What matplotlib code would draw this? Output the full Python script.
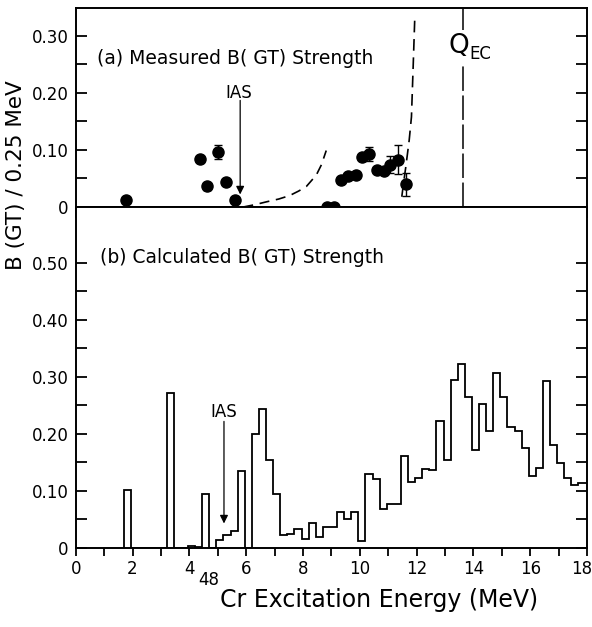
import matplotlib
matplotlib.use('Agg')
import matplotlib.pyplot as plt
import matplotlib.transforms as mtransforms
import numpy as np
from matplotlib.ticker import MultipleLocator

plt.rcParams['font.family'] = ['DejaVu Sans']

# ---------------- (a) measured B(GT) ----------------
meas_E = [1.78, 4.38, 4.62, 5.01, 5.29, 5.60, 8.84, 9.10, 9.34, 9.60, 9.88,
          10.07, 10.33, 10.60, 10.87, 11.08, 11.34, 11.62]
meas_B = [0.013, 0.085, 0.036, 0.096, 0.043, 0.012, 0.0, 0.0, 0.047, 0.054, 0.056,
          0.088, 0.093, 0.065, 0.063, 0.074, 0.083, 0.040]
meas_err = [0.0, 0.0, 0.006, 0.012, 0.0, 0.0, 0.0, 0.0, 0.0, 0.0, 0.0,
            0.0, 0.012, 0.0, 0.0, 0.015, 0.025, 0.020]

# detection-limit curves (dashed)
limit1_E = [5.90, 6.30, 6.71, 7.15, 7.53, 7.85, 8.12, 8.47, 8.65, 8.82]
limit1_B = [0.0, 0.004, 0.009, 0.014, 0.020, 0.028, 0.036, 0.056, 0.074, 0.099]
limit2_E = [11.48, 11.55, 11.62, 11.74, 11.82, 11.88, 11.94]
limit2_B = [0.018, 0.045, 0.070, 0.117, 0.158, 0.246, 0.336]

Q_EC = 13.64
IAS_meas_E = 5.79
IAS_calc_E = 5.22

# ---------------- (b) calculated B(GT), 0.25 MeV bins ----------------
calc_first_edge = 1.70
calc_bin_width = 0.25
calc_B = [0.101, 0, 0, 0, 0, 0, 0.271, 0, 0, 0.003, 0.002, 0.095, 0,
          0.014, 0.022, 0.030, 0.135, 0, 0.200, 0.243, 0.154, 0.094,
          0.022, 0.025, 0.034, 0.016, 0.043, 0.020, 0.037, 0.037,
          0.063, 0.051, 0.064, 0.013, 0.130, 0.121, 0.069, 0.077, 0.078,
          0.162, 0.116, 0.122, 0.138, 0.136, 0.223, 0.155, 0.294, 0.322,
          0.265, 0.172, 0.252, 0.205, 0.307, 0.265, 0.212, 0.206, 0.175,
          0.126, 0.140, 0.293, 0.181, 0.149, 0.122, 0.110, 0.114, 0.114]
calc_edges = calc_first_edge + calc_bin_width * np.arange(len(calc_B) + 1)

x_ticks_major = [0, 2, 4, 6, 8, 10, 12, 14, 16, 18]
top_yticks = [0, 0.10, 0.20, 0.30]
top_ylabels = ['0', '0.10', '0.20', '0.30']
bot_yticks = [0, 0.10, 0.20, 0.30, 0.40, 0.50]
bot_ylabels = ['0', '0.10', '0.20', '0.30', '0.40', '0.50']

W, H = 592, 627
fig = plt.figure(figsize=(W / 100, H / 100), dpi=100)

def fx(px):
    return px / W

def fy(py):
    return 1 - py / H

L, R = 75.7, 587
ax_a = fig.add_axes([fx(L), fy(207), fx(R) - fx(L), (207 - 8) / H])
ax_b = fig.add_axes([fx(L), fy(548), fx(R) - fx(L), (548 - 207) / H])

TICK_FS = 12
for ax in (ax_a, ax_b):
    ax.set_xlim(0, 18)
    for s in ax.spines.values():
        s.set_linewidth(1.4)
    ax.xaxis.set_minor_locator(MultipleLocator(1))
    ax.set_xticks(x_ticks_major)
    ax.tick_params(axis='x', which='both', direction='out', length=6, width=1.3,
                   top=False, bottom=True, pad=3)
    ax.tick_params(axis='y', which='both', direction='in', length=8, width=1.3,
                   left=True, right=True, pad=5, labelsize=TICK_FS)

ax_a.set_ylim(0, 0.349)
ax_a.set_yticks(top_yticks)
ax_a.set_yticklabels(top_ylabels)
ax_a.yaxis.set_minor_locator(MultipleLocator(0.05))
ax_a.tick_params(axis='x', which='both', labelbottom=False, length=8)

ax_b.set_ylim(0, 0.598)
ax_b.set_yticks(bot_yticks)
ax_b.set_yticklabels(bot_ylabels)
ax_b.set_yticks([0.05, 0.15, 0.25, 0.35, 0.45], minor=True)
ax_b.tick_params(axis='x', which='major', labelsize=TICK_FS)
# keep the last x label ("18") inside the picture
last = ax_b.get_xticklabels()[-1]
last.set_transform(last.get_transform() +
                   mtransforms.ScaledTranslation(-4 / 72, 0, fig.dpi_scale_trans))

# ---- panel (a) ----
ax_a.errorbar(meas_E, meas_B, yerr=meas_err, fmt='o', color='black', ms=8,
              capsize=3, elinewidth=1.0, capthick=1.0, clip_on=False, zorder=5)
ax_a.plot(limit1_E, limit1_B, ls=(0, (6, 4)), color='black', lw=1.2)
ax_a.plot(limit2_E, limit2_B, ls=(0, (7, 4)), color='black', lw=1.2)
ax_a.axvline(Q_EC, color='black', lw=1.1, ls=(0, (16, 3)))
ax_a.text(Q_EC - 0.15, 0.282, 'Q', fontsize=19, ha='center', va='center',
          bbox=dict(facecolor='white', edgecolor='none', pad=2), zorder=6)
ax_a.text(Q_EC + 0.22, 0.268, 'EC', fontsize=12, ha='left', va='center', zorder=6)
ax_a.text(0.75, 0.260, '(a) Measured B( GT) Strength', fontsize=13.5,
          ha='left', va='center')
ax_a.text(IAS_meas_E - 0.05, 0.200, 'IAS', fontsize=12, ha='center', va='center')
ax_a.annotate('', xy=(IAS_meas_E, 0.022), xytext=(IAS_meas_E, 0.187),
              arrowprops=dict(arrowstyle='-|>', color='black', lw=0.9,
                              mutation_scale=12, shrinkA=0, shrinkB=0))

# ---- panel (b) ----
ax_b.stairs(calc_B, calc_edges, baseline=0, color='black', lw=1.3)
ax_b.text(0.85, 0.509, '(b) Calculated B( GT) Strength', fontsize=13.5,
          ha='left', va='center')
ax_b.text(IAS_calc_E, 0.239, 'IAS', fontsize=12, ha='center', va='center')
ax_b.annotate('', xy=(IAS_calc_E, 0.043), xytext=(IAS_calc_E, 0.222),
              arrowprops=dict(arrowstyle='-|>', color='black', lw=0.9,
                              mutation_scale=12, shrinkA=0, shrinkB=0))

# ---- axis labels ----
fig.text(fx(16), fy(175), 'B (GT) / 0.25 MeV', rotation=90, fontsize=15.5,
         ha='center', va='center')
fig.text(fx(198), fy(580), '48', fontsize=12, ha='left', va='center')
fig.text(fx(220), fy(600), 'Cr Excitation Energy (MeV)', fontsize=17,
         ha='left', va='center')

fig.savefig('out.png', dpi=100)
